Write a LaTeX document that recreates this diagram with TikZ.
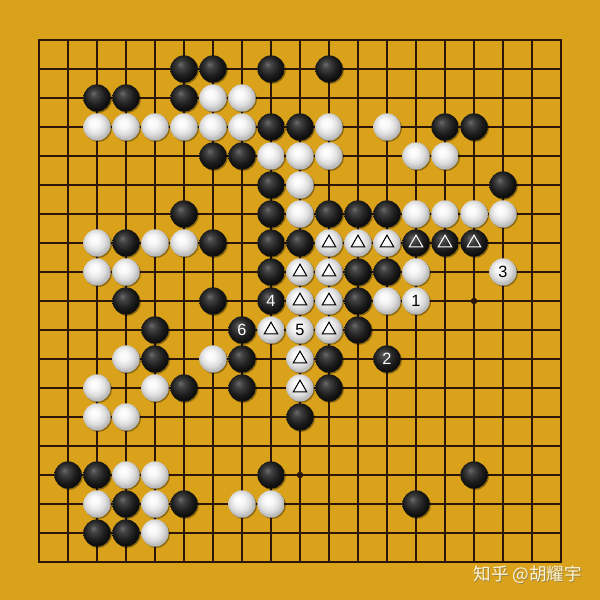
\documentclass[tikz,border=0pt]{standalone}
\usepackage{fontspec}
\setmainfont{Liberation Sans}
\newfontfamily\cjkfont{Noto Sans CJK SC}
\usetikzlibrary{shadows}

\definecolor{boardwood}{RGB}{218,162,26}
\definecolor{gridline}{RGB}{44,22,6}
\definecolor{markcream}{RGB}{252,244,210}

\pgfdeclareradialshading{blackstone}{\pgfpoint{-7bp}{9bp}}{color(0bp)=(black!58); color(7bp)=(black!74); color(18bp)=(black!88); color(25bp)=(black!94); color(50bp)=(black)}
\pgfdeclareradialshading{whitestone}{\pgfpoint{-6bp}{8bp}}{color(0bp)=(white); color(9bp)=(white!97!black); color(19bp)=(white!86!black); color(25bp)=(white!74!black); color(50bp)=(white!60!black)}

\tikzset{
  stone/.style={circle, minimum size=0.47cm, inner sep=0pt, draw=none,
    font=\fontsize{8}{9}\selectfont,
    drop shadow={shadow xshift=0.6pt, shadow yshift=-0.6pt, opacity=0.35, fill=black}},
  bstone/.style={stone, shading=blackstone, text=white},
  wstone/.style={stone, shading=whitestone, text=black},
  tri/.style={path picture={
    \draw[#1, line width=0.5pt, line join=miter]
      ([shift={(90:0.135cm)}]path picture bounding box.center)
      -- ([shift={(210:0.135cm)}]path picture bounding box.center)
      -- ([shift={(330:0.135cm)}]path picture bounding box.center) -- cycle;}}
}

\begin{document}
\begin{tikzpicture}[x=0.5cm, y=-0.5cm]
  % board
  \fill[boardwood] (-1.345,-1.379) rectangle (19.345,19.31);
  \useasboundingbox (-1.345,-1.379) rectangle (19.345,19.31);

  % grid lines and star points
  \foreach \i in {1,...,17} {
    \draw[gridline, line width=0.7pt] (\i,0) -- (\i,18);
    \draw[gridline, line width=0.7pt] (0,\i) -- (18,\i);
  }
  \draw[gridline, line width=0.9pt] (0,0) rectangle (18,18);
  \foreach \c in {3,9,15}
    \foreach \r in {3,9,15}
      \fill[gridline] (\c,\r) circle[radius=1.6pt];

  % black stones
  \foreach \c/\r in {5/1,6/1,8/1,10/1, 2/2,3/2,5/2, 8/3,9/3,14/3,15/3,
      6/4,7/4, 8/5,16/5, 5/6,8/6,10/6,11/6,12/6, 3/7,6/7,8/7,9/7,
      8/8,11/8,12/8, 3/9,6/9,11/9, 4/10,11/10, 4/11,7/11,10/11,
      5/12,7/12,10/12, 9/13, 1/15,2/15,8/15,15/15, 3/16,5/16,13/16, 2/17,3/17}
    \node[bstone] (b-\c-\r) at (\c,\r) {};
  \foreach \c/\r in {13/7,14/7,15/7}
    \node[bstone, tri=white] (b-\c-\r) at (\c,\r) {};
  \node[bstone] (b-12-11) at (12,11) {2};
  \node[bstone] (b-8-9) at (8,9) {4};
  \node[bstone] (b-7-10) at (7,10) {6};

  % white stones
  \foreach \c/\r in {6/2,7/2, 2/3,3/3,4/3,5/3,6/3,7/3,10/3,12/3,
      8/4,9/4,10/4,13/4,14/4, 9/5, 9/6,13/6,14/6,15/6,16/6,
      2/7,4/7,5/7, 2/8,3/8,13/8, 12/9, 3/11,6/11, 2/12,4/12,
      2/13,3/13, 3/15,4/15, 2/16,4/16,7/16,8/16, 4/17}
    \node[wstone] (w-\c-\r) at (\c,\r) {};
  \foreach \c/\r in {10/7,11/7,12/7, 9/8,10/8, 9/9,10/9, 8/10,10/10, 9/11, 9/12}
    \node[wstone, tri=black] (w-\c-\r) at (\c,\r) {};
  \node[wstone] (w-13-9) at (13,9) {1};
  \node[wstone] (w-16-8) at (16,8) {3};
  \node[wstone] (w-9-10) at (9,10) {5};

  % watermark
  \node[text=black!55, opacity=0.6, font=\cjkfont\fontsize{8.6}{10}\selectfont]
    (mark-shadow) at ([shift={(0.4pt,-0.4pt)}]16.86,18.45) {知乎 @胡耀宇};
  \node[text=markcream, font=\cjkfont\fontsize{8.6}{10}\selectfont]
    (mark) at (16.86,18.45) {知乎 @胡耀宇};
\end{tikzpicture}
\end{document}
